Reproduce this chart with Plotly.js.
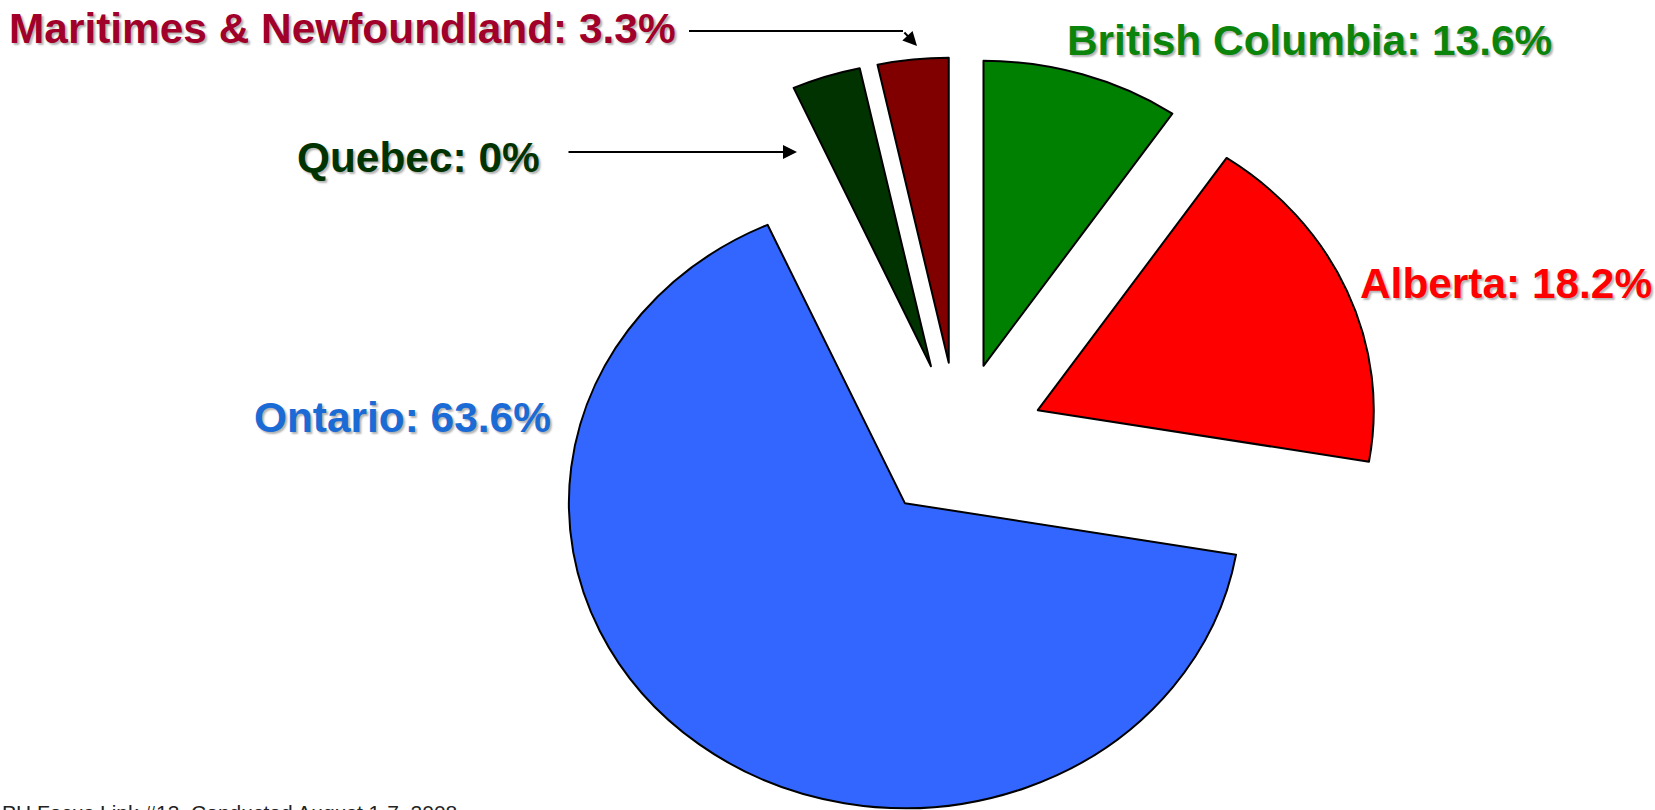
<!DOCTYPE html>
<html><head><meta charset="utf-8">
<script src="https://cdn.plot.ly/plotly-3.0.1.min.js"></script>
<style>html,body{margin:0;padding:0;background:#fff;overflow:hidden}#chart{width:1655px;height:810px}</style>
</head><body><div id="chart"></div>
<script>
// ---- data ----
const regions = ["British Columbia", "Alberta", "Ontario", "Quebec", "Maritimes & Newfoundland"];
const sliceShares = [9.5, 18.2, 65.6, 3.3, 3.4];          // drawn slice sizes (%)
const labelPercents = ["13.6%", "18.2%", "63.6%", "0%", "3.3%"]; // printed labels
const footnote = "PH Focus Link #13, Conducted August 1-7, 2008";

// ---- styles ----
const sliceColors = ["#008000", "#FF0000", "#3366FF", "#003300", "#800000"];
const labelColors = ["#0a840a", "#FF0000", "#1a6bd6", "#003300", "#A0002A"];
const W = 1655, H = 810;
const px = x => x / W, py = y => 1 - y / H;

// label placement [left x, middle y] in pixels
const labelPos = [[1065, 41], [1358, 283], [252, 417], [295, 157], [7, 29]];

const annotations = regions.map((r, i) => ({
  text: r + ": " + labelPercents[i],
  xref: "paper", yref: "paper",
  x: px(labelPos[i][0]), y: py(labelPos[i][1]),
  xanchor: "left", yanchor: "middle", showarrow: false,
  font: {family: "Liberation Sans, Arial, sans-serif", size: 42.4, weight: 700,
         color: labelColors[i], shadow: "2px 2px 2px rgba(0,0,0,0.3)"}
}));
// arrows
annotations.push({
  text: "", xref: "paper", yref: "paper", x: px(797), y: py(152),
  ax: -230, ay: 0, showarrow: true, arrowhead: 2, arrowsize: 1.4, arrowwidth: 2, arrowcolor: "#000"
});
annotations.push({
  text: "", xref: "paper", yref: "paper", x: px(917), y: py(46),
  ax: -14, ay: -15, showarrow: true, arrowhead: 2, arrowsize: 1.4, arrowwidth: 2, arrowcolor: "#000"
});
annotations.push({
  text: footnote, xref: "paper", yref: "paper", x: 0, y: py(799),
  xanchor: "left", yanchor: "top", showarrow: false,
  font: {family: "Liberation Sans, Arial, sans-serif", size: 21, color: "#222"}
});

const shapes = [{
  type: "line", xref: "paper", yref: "paper",
  x0: px(689), y0: py(31), x1: px(903), y1: py(31),
  line: {color: "#000", width: 2}
}];

const trace = {
  type: "pie", labels: regions, values: sliceShares, sort: false,
  direction: "clockwise", rotation: 0, pull: 0.258,
  textinfo: "none", hoverinfo: "none", showlegend: false,
  marker: {colors: sliceColors, line: {color: "#000", width: 2}},
  domain: {x: [0.279, 0.879], y: [0, 1]}
};

const layout = {
  width: W, height: H, margin: {l: 0, r: 0, t: 0, b: 0},
  paper_bgcolor: "#fff", plot_bgcolor: "#fff", showlegend: false,
  annotations: annotations, shapes: shapes
};

Plotly.newPlot("chart", [trace], layout, {displayModeBar: false, staticPlot: true}).then(gd => {
  const cd0 = gd.calcdata[0][0];
  const layer = gd.querySelector(".pielayer");
  if (layer && cd0 && cd0.r) {
    const sx = 336 / cd0.r, sy = 305 / cd0.r;
    layer.setAttribute("transform",
      `translate(958,441) scale(${sx},${sy}) translate(${-cd0.cx},${-cd0.cy})`);
    layer.querySelectorAll("path").forEach(p => p.style.vectorEffect = "non-scaling-stroke");
  }
});
</script>
</body></html>
